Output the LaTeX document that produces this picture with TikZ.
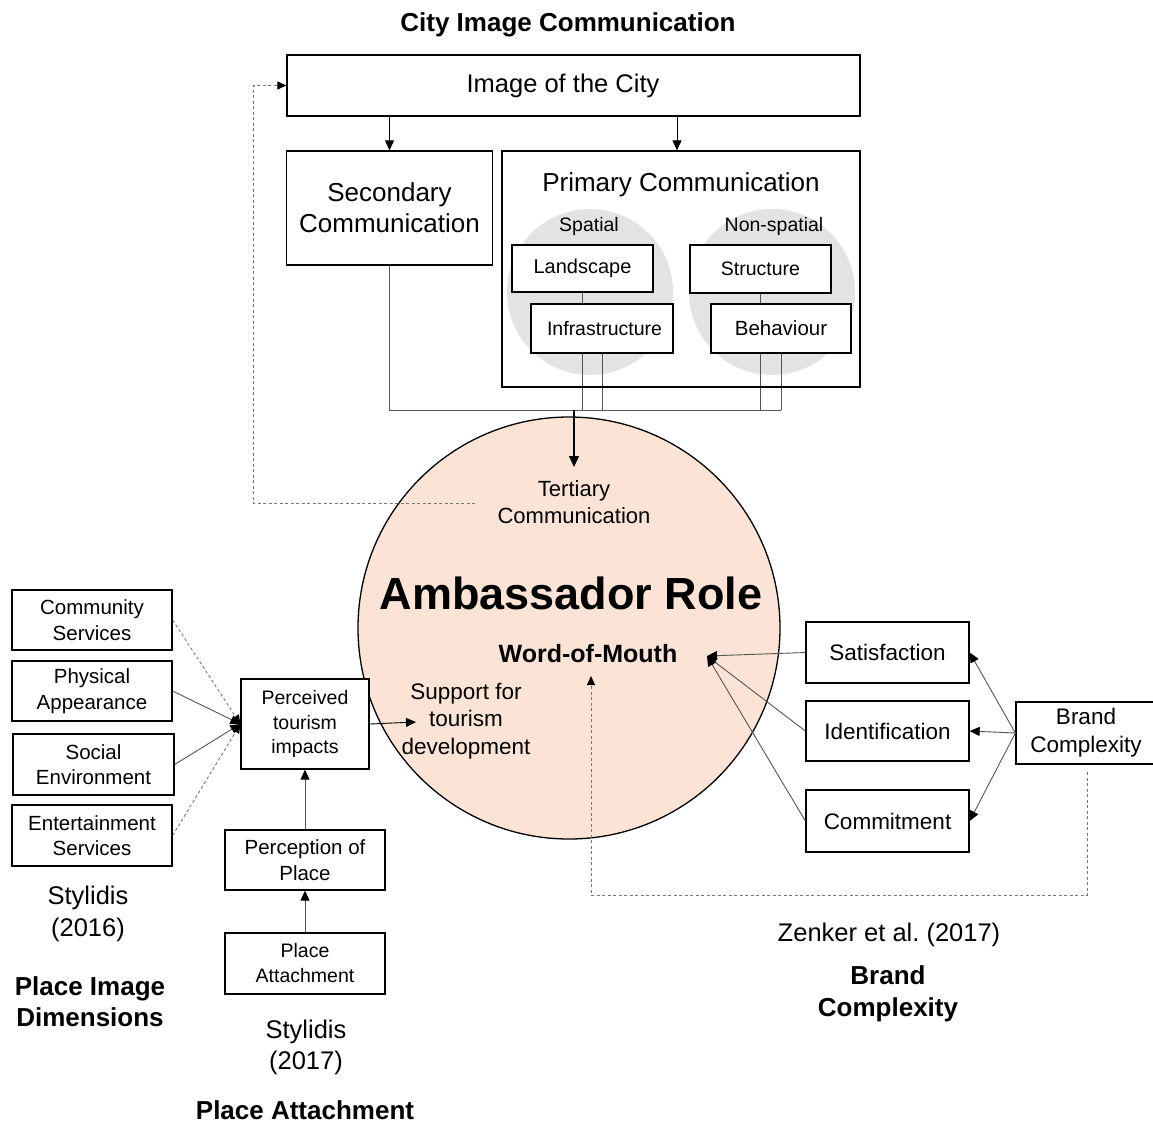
\documentclass[tikz,border=0pt]{standalone}
\usepackage{fontspec}
\setmainfont{Liberation Sans}
\usetikzlibrary{arrows.meta,calc}
\pgfdeclarelayer{bg}
\pgfsetlayers{bg,main}
\definecolor{peach}{HTML}{FBE4D5}
\definecolor{ellgrey}{HTML}{E3E3E3}
\definecolor{lingrey}{HTML}{555555}
\definecolor{dashgrey}{HTML}{777777}
\newcommand\myfs[2]{\fontsize{#1}{#2}\selectfont}
\begin{document}
\begin{tikzpicture}[x=1pt,y=-1pt,
  box/.style={draw, line width=1.3pt, fill=white, inner sep=0pt, align=center},
  lbl/.style={inner sep=0pt, align=center},
  conn/.style={draw=lingrey, line width=0.9pt},
  arr/.style={draw=black, line width=0.9pt, -{Triangle[length=10pt,width=9pt,color=black]}},
  garr/.style={arr, draw=lingrey},
  bigarr/.style={draw=black, line width=1.4pt, -{Triangle[length=11pt,width=10pt]}},
  dsh/.style={draw=dashgrey, line width=0.9pt, dash pattern=on 3pt off 2.5pt},
  dsharr/.style={dsh, -{Triangle[length=9pt,width=8pt,color=black]}},
  ell/.style={circle, fill=ellgrey, minimum size=166pt, inner sep=0pt}
]
\useasboundingbox (0,0) rectangle (1153,1124);

% ---------- top part ----------
\node[lbl, font=\bfseries\myfs{26}{31}] (title) at (568,25) {City Image Communication};
\node[box, minimum width=573pt, minimum height=61pt, font=\myfs{25.5}{30}] (img) at (573.5,85.5) {\hspace*{-21pt}Image of the City};
\node[box, minimum width=206pt, minimum height=114pt, font=\myfs{26}{31}] (sec) at (389.5,208) {Secondary\\Communication};
\node[box, fill=none, minimum width=358pt, minimum height=236pt] (prim) at (681,269) {};
\node[lbl, font=\myfs{26}{31}] (primtitle) at (681,185) {Primary Communication};

\node[lbl, font=\myfs{19.5}{24}] (spatial) at (589,226) {Spatial};
\node[lbl, font=\myfs{19.5}{24}] (nonspatial) at (774,226) {Non-spatial};

\node[box, minimum width=141pt, minimum height=47pt, font=\myfs{20}{24}] (land) at (582.5,268.5) {Landscape};
\node[box, minimum width=141pt, minimum height=48pt, font=\myfs{19.5}{24}] (struc) at (760.5,269) {Structure};
\node[box, minimum width=142pt, minimum height=49pt, font=\myfs{19.5}{24}] (infra) at (602,328.5) {\hspace*{5pt}Infrastructure};
\node[box, minimum width=140pt, minimum height=49pt, font=\myfs{20.5}{24}] (behav) at (781,328.5) {Behaviour};

\coordinate (bus) at (574,410);
\coordinate (busR) at (781,410);
\coordinate (tertin) at (574,467);

% ---------- central circle ----------
\node[lbl, font=\myfs{22}{27}] (tert) at (574,502) {Tertiary\\Communication};
\node[lbl, font=\bfseries\myfs{45}{50}] (amb) at (571,593) {Ambassador Role};
\node[lbl, font=\bfseries\myfs{25}{30}] (wom) at (588,654) {Word-of-Mouth};
\node[lbl, font=\myfs{22.5}{27.5}] (supp) at (466,721) {Support for\\tourism\\development};

\coordinate (womtip) at (707,656);
\coordinate (womdash) at (591,676);
\coordinate (tdash) at (475,503);
\coordinate (tcorner) at (253,503);
\coordinate (suppin) at (416,722);

% ---------- left part ----------
\node[box, minimum width=160pt, minimum height=60pt, font=\myfs{20.5}{25.5}] (cs) at (92,620) {Community\\Services};
\node[box, minimum width=160pt, minimum height=60pt, font=\myfs{20.5}{25.5}] (pa) at (92,691) {Physical\\Appearance};
\node[box, minimum width=161pt, minimum height=61pt, font=\myfs{20.5}{25.5}] (se) at (93.5,764.5) {Social\\Environment};
\node[box, minimum width=160pt, minimum height=61pt, font=\myfs{20.5}{25.5}] (es) at (92,835.5) {Entertainment\\Services};
\node[box, minimum width=128pt, minimum height=90pt, font=\myfs{19.5}{24.5}] (pti) at (305,724) {Perceived\\tourism\\impacts};
\node[box, minimum width=160pt, minimum height=60pt, font=\myfs{20.5}{26}] (pop) at (305,860) {Perception of\\Place};
\node[box, minimum width=160pt, minimum height=61pt, font=\myfs{19.5}{25}] (patt) at (305,963.5) {Place\\Attachment};

\node[lbl, font=\myfs{25.5}{32}] (sty16) at (88,914) {Stylidis\\(2016)};
\node[lbl, font=\bfseries\myfs{26}{31}] (pid) at (90,1002) {Place Image\\Dimensions};
\node[lbl, font=\myfs{25.5}{31}] (sty17) at (306,1047) {Stylidis\\(2017)};
\node[lbl, font=\bfseries\myfs{26}{31}] (pattl) at (305,1110) {Place Attachment};

% ---------- right part ----------
\node[box, minimum width=163pt, minimum height=61pt, font=\myfs{22.5}{28}] (sat) at (887.5,652.5) {Satisfaction};
\node[box, minimum width=163pt, minimum height=60pt, font=\myfs{22.5}{28}] (ident) at (887.5,731) {Identification};
\node[box, minimum width=163pt, minimum height=62pt, font=\myfs{22.5}{28}] (commit) at (887.5,821) {Commitment};
\node[box, minimum width=140pt, minimum height=62pt, font=\myfs{22.5}{28}] (brand) at (1086,733) {Brand\\Complexity};
\coordinate (bcdash) at (1087,772);

\node[lbl, font=\myfs{25.5}{31}] (zenker) at (889,935) {Zenker et al.\ (2017)};
\node[lbl, font=\bfseries\myfs{26}{32}] (bcl) at (888,994) {Brand\\Complexity};

% ---------- background layer ----------
\begin{pgfonlayer}{bg}
  \node[circle, draw, line width=1.3pt, fill=peach, minimum size=422pt, inner sep=0pt] (big) at (569,628) {};
  \node[ell] (spell) at (590,292) {};
  \node[ell] (nsell) at (772,292) {};
  \draw[conn] (sec.south) |- (busR);
  \draw[conn] (land.south) -- (land.south |- bus);
  \draw[conn] (infra.south) -- (infra.south |- bus);
  \draw[conn] (struc.south) -- (struc.south |- bus);
  \draw[conn] (behav.south) -- (behav.south |- bus);
\end{pgfonlayer}

% ---------- connectors ----------
\draw[arr] (sec.north |- img.south) -- (sec.north);
\draw[arr] ([xshift=-4pt]prim.north |- img.south) -- ([xshift=-4pt]prim.north);
\draw[bigarr] (bus) -- (tertin);

\draw[dsharr] (tdash) -- (tcorner) |- (img.west);

\draw[dsharr] (cs.east) -- (pti.west);
\draw[garr] (pa.east) -- (pti.west);
\draw[garr] (se.east) -- (pti.west);
\draw[dsharr] (es.east) -- (pti.west);
\draw[arr] (pti.east) -- (suppin);
\draw[garr] (pop.north) -- (pti.south);
\draw[garr] (patt.north) -- (pop.south);

\draw[garr] (sat.west) -- (womtip);
\draw[garr] (ident.west) -- (womtip);
\draw[garr] (commit.west) -- (womtip);
\draw[garr] (brand.west) -- (sat.east);
\draw[garr] (brand.west) -- (ident.east);
\draw[garr] (brand.west) -- (commit.east);
\draw[dsharr] (bcdash) -- ++(0,123) -| (womdash);
\end{tikzpicture}
\end{document}
